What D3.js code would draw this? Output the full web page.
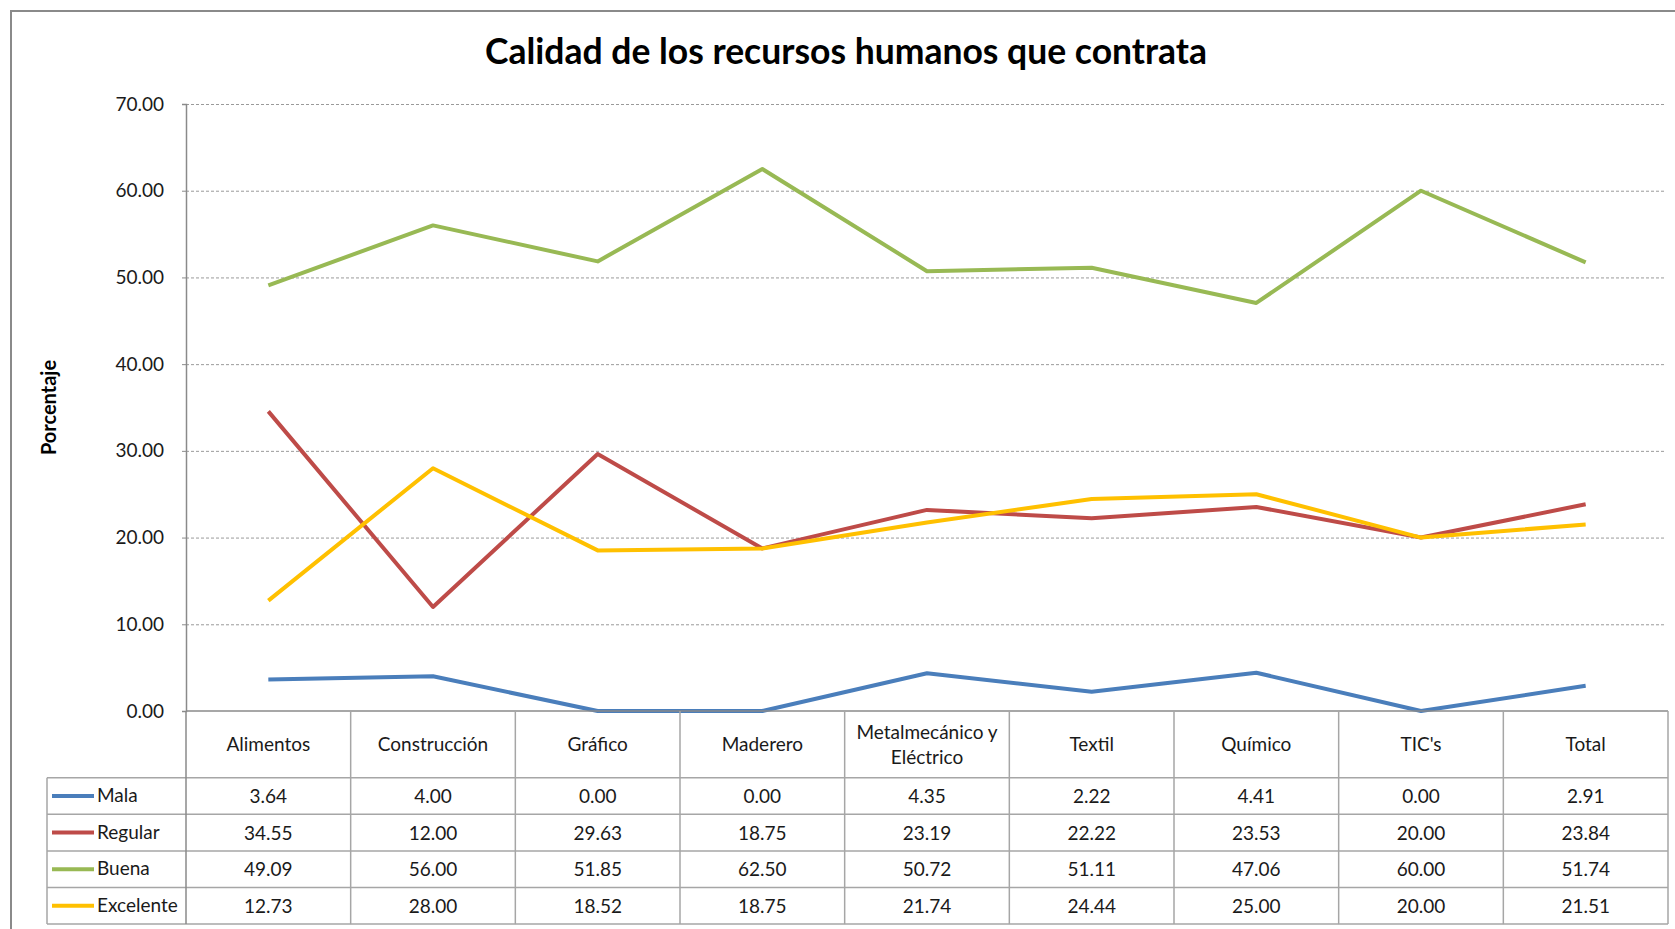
<!DOCTYPE html>
<html>
<head>
<meta charset="utf-8">
<script src="https://d3js.org/d3.v7.min.js"></script>
<style>
  body { margin: 0; background: #fff; }
  text { font-family: Lato, "Noto Sans", sans-serif; fill: #1a1a1a; }
</style>
</head>
<body>
<div id="chart"></div>
<script>
// data
var categories = ["Alimentos", "Construcción", "Gráfico", "Maderero", "Metalmecánico y\nEléctrico", "Textil", "Químico", "TIC's", "Total"];
var seriesNames = ["Mala", "Regular", "Buena", "Excelente"];
var mala      = [3.64, 4.00, 0.00, 0.00, 4.35, 2.22, 4.41, 0.00, 2.91];
var regular   = [34.55, 12.00, 29.63, 18.75, 23.19, 22.22, 23.53, 20.00, 23.84];
var buena     = [49.09, 56.00, 51.85, 62.50, 50.72, 51.11, 47.06, 60.00, 51.74];
var excelente = [12.73, 28.00, 18.52, 18.75, 21.74, 24.44, 25.00, 20.00, 21.51];
var yTicks = [0, 10, 20, 30, 40, 50, 60, 70];

var seriesColors = ["#4A7EBB", "#BE4B48", "#98B954", "#FFC000"];
var series = [mala, regular, buena, excelente].map(function(v, i) {
  return { name: seriesNames[i], values: v, color: seriesColors[i] };
});

var W = 1675, H = 929;
var plotLeft = 186, plotRight = 1668, plotTop = 104, plotBottom = 711;
var legendLeft = 47;
var rowH = 36.6, headerH = 66.7;

var svg = d3.select("#chart").append("svg")
    .attr("width", W)
    .attr("height", H);

// outer frame (cut at right and bottom)
svg.append("path")
    .attr("d", "M11," + H + " V11 H" + W)
    .attr("fill", "none")
    .attr("stroke", "#8a8a8a")
    .attr("stroke-width", 2);

// title
svg.append("text")
    .attr("x", 846)
    .attr("y", 64)
    .attr("text-anchor", "middle")
    .style("font-size", "35.5px")
    .style("font-weight", "bold")
    .style("fill", "#000")
    .text("Calidad de los recursos humanos que contrata");

var x = d3.scaleBand()
    .domain(categories)
    .range([plotLeft, plotRight])
    .paddingInner(0).paddingOuter(0);

var y = d3.scaleLinear()
    .domain([0, 70])
    .range([plotBottom, plotTop]);

// gridlines
svg.append("g")
    .attr("transform", "translate(" + plotLeft + ",0)")
    .call(d3.axisLeft(y).tickValues(yTicks.slice(1)).tickSize(-(plotRight - plotLeft - 4)).tickFormat(""))
    .call(function(g) { g.select(".domain").remove(); })
    .selectAll("line")
    .attr("stroke", "#9a9a9a")
    .attr("stroke-dasharray", "3,2");

// y axis
var yAxis = svg.append("g")
    .attr("transform", "translate(" + plotLeft + ",0)")
    .call(d3.axisLeft(y).tickValues(yTicks).tickSize(4).tickPadding(18).tickFormat(d3.format(".2f")));
yAxis.select(".domain").attr("stroke", "#8a8a8a").attr("stroke-width", 1.5);
yAxis.selectAll(".tick line").attr("stroke", "#8a8a8a");
yAxis.selectAll("text")
    .style("font-size", "19px")
    .style("font-family", "Lato, sans-serif")
    .attr("fill", "#1a1a1a");

// y axis title
svg.append("text")
    .attr("transform", "translate(56," + ((plotTop + plotBottom) / 2) + ") rotate(-90)")
    .attr("text-anchor", "middle")
    .style("font-size", "20px")
    .style("font-weight", "bold")
    .style("fill", "#000")
    .text("Porcentaje");

// lines
var line = d3.line()
    .x(function(d, i) { return x(categories[i]) + x.bandwidth() / 2; })
    .y(function(d) { return y(d); });

svg.append("g").selectAll("path")
    .data(series)
    .enter().append("path")
    .attr("fill", "none")
    .attr("stroke", function(d) { return d.color; })
    .attr("stroke-width", 4)
    .attr("stroke-linejoin", "round")
    .attr("d", function(d) { return line(d.values); });

// data table
var table = svg.append("g");
var gridColor = "#a6a6a6";
var tableBottom = plotBottom + headerH + rowH * series.length;

// horizontal lines
table.append("line")
    .attr("x1", plotLeft).attr("x2", plotRight)
    .attr("y1", plotBottom).attr("y2", plotBottom)
    .attr("stroke", "#8a8a8a").attr("stroke-width", 1.5);
d3.range(series.length + 1).forEach(function(r) {
  var yy = plotBottom + headerH + r * rowH;
  table.append("line")
      .attr("x1", legendLeft).attr("x2", plotRight)
      .attr("y1", yy).attr("y2", yy)
      .attr("stroke", gridColor).attr("stroke-width", 1.5);
});
// vertical lines
categories.forEach(function(c) {
  table.append("line")
      .attr("x1", x(c) + x.bandwidth()).attr("x2", x(c) + x.bandwidth())
      .attr("y1", plotBottom).attr("y2", tableBottom)
      .attr("stroke", gridColor).attr("stroke-width", 1.5);
});
table.append("line")
    .attr("x1", plotLeft).attr("x2", plotLeft)
    .attr("y1", plotBottom).attr("y2", tableBottom)
    .attr("stroke", "#8a8a8a").attr("stroke-width", 1.5);
table.append("line")
    .attr("x1", legendLeft).attr("x2", legendLeft)
    .attr("y1", plotBottom + headerH).attr("y2", tableBottom)
    .attr("stroke", gridColor).attr("stroke-width", 1.5);

// header labels
categories.forEach(function(c) {
  var parts = c.split("\n");
  var cx = x(c) + x.bandwidth() / 2;
  var cy = plotBottom + headerH / 2;
  var t = table.append("text")
      .attr("x", cx)
      .attr("text-anchor", "middle")
      .style("font-size", "19px");
  parts.forEach(function(p, k) {
    t.append("tspan")
        .attr("x", cx)
        .attr("y", cy + 7 + (k - (parts.length - 1) / 2) * 25)
        .text(p);
  });
});

// rows
series.forEach(function(s, r) {
  var cy = plotBottom + headerH + r * rowH + rowH / 2;
  table.append("line")
      .attr("x1", legendLeft + 5).attr("x2", legendLeft + 47)
      .attr("y1", cy).attr("y2", cy)
      .attr("stroke", s.color).attr("stroke-width", 4);
  table.append("text")
      .attr("x", legendLeft + 50)
      .attr("y", cy + 6)
      .style("font-size", "19px")
      .text(s.name);
  s.values.forEach(function(v, i) {
    table.append("text")
        .attr("x", x(categories[i]) + x.bandwidth() / 2)
        .attr("y", cy + 7)
        .attr("text-anchor", "middle")
        .style("font-size", "19px")
        .text(d3.format(".2f")(v));
  });
});
</script>
</body>
</html>
